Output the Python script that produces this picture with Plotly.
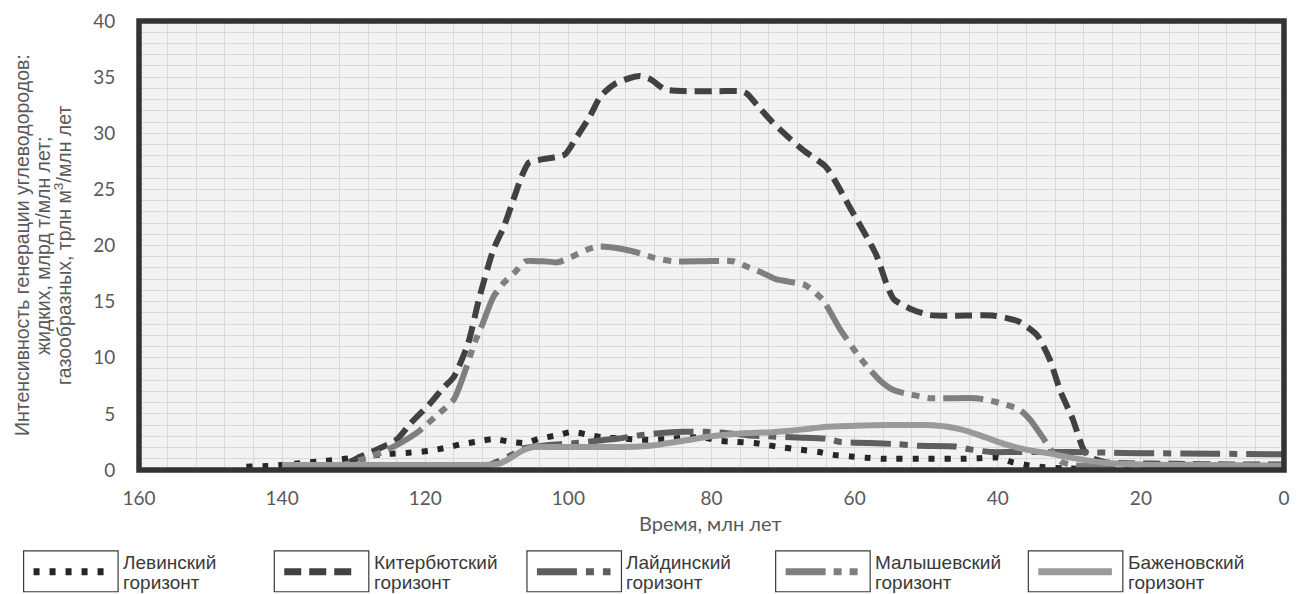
import plotly.graph_objects as go

# Время, млн лет (ось идёт от 160 к 0) и интенсивность генерации по горизонтам
lev_t = [145, 142, 140, 137.5, 135, 132.5, 130, 127.5, 125, 122, 119.5, 117, 115, 113, 110.5,
         108, 106, 104, 101.5, 99.5, 97, 95, 92.5, 90, 88, 85.5, 83, 81, 79, 76.5, 74, 72, 70,
         67.5, 65, 63, 60.5, 58.5, 56, 50, 45, 42.5, 40, 38, 36, 33.5, 31, 28]
lev_v = [0.3, 0.35, 0.45, 0.6, 0.75, 0.9, 1.1, 1.3, 1.45, 1.55, 1.7, 2.0, 2.3, 2.5, 2.75,
         2.5, 2.4, 2.8, 3.1, 3.4, 3.1, 2.9, 2.8, 2.7, 2.7, 2.8, 2.9, 2.9, 2.6, 2.5, 2.4, 2.2, 2.0,
         1.8, 1.6, 1.35, 1.2, 1.1, 1.0, 1.0, 1.0, 1.05, 1.1, 0.7, 0.45, 0.25, 0.15, 0.1]

kit_t = [134, 131, 129, 126.5, 124, 122, 119.5, 117.5, 116, 114, 112.5, 110.5, 109, 108, 106.5,
         105.5, 103.5, 100.5, 99, 97, 95.5, 93.5, 91.5, 90, 88.5, 86.5, 83.5, 79, 76, 75, 73.5, 71.5,
         69, 67, 64, 60.5, 57, 55.5, 54.5, 52, 49.5, 46, 40.5, 37, 34.5, 32.7, 31.3, 29.5, 28,
         27, 25, 22, 15, 8, 0]
kit_v = [0.1, 0.6, 1.2, 1.9, 2.7, 4.2, 5.8, 7.3, 8.3, 11.3, 15.2, 19.6, 21.7, 23.5, 26.2,
         27.4, 27.7, 28.1, 29.5, 31.5, 33.3, 34.4, 34.9, 35.1, 34.8, 33.9, 33.75, 33.75, 33.75, 33.5, 32.4, 31.0,
         29.5, 28.4, 27.0, 23.2, 19.2, 16.5, 15.2, 14.3, 13.8, 13.75, 13.75, 13.2, 12.0, 9.8, 7.1, 4.5, 1.8,
         1.1, 0.7, 0.6, 0.55, 0.5, 0.5]

lay_t = [115, 112, 110.5, 109, 107.5, 106.5, 103, 99, 96, 93, 90, 87, 84, 81, 78, 75, 72, 68,
         64, 62, 58, 54, 51, 46, 44, 41, 38, 35, 30, 25, 20, 10, 0]
lay_v = [0.05, 0.2, 0.6, 1.0, 1.5, 1.9, 2.2, 2.4, 2.6, 2.8, 3.1, 3.3, 3.4, 3.4, 3.3, 3.1, 3.0, 2.9,
         2.8, 2.5, 2.4, 2.3, 2.15, 2.1, 1.85, 1.6, 1.6, 1.6, 1.6, 1.55, 1.5, 1.45, 1.4]

mal_t = [136, 132, 129, 126, 123.5, 121, 118.5, 116, 113, 112, 110.5, 109, 107.5, 106, 104.5,
         103.5, 101.5, 99.5, 97.5, 96, 93.5, 90.5, 88, 85.5, 81, 77, 75, 73, 71, 68.5, 67, 64.5,
         62, 59, 56.5, 54.5, 52, 49.5, 43, 40.5, 37, 35.5, 33.5, 32, 31, 29, 25, 15, 0]
mal_v = [0.1, 0.4, 0.9, 1.6, 2.4, 3.4, 4.8, 6.3, 11.5, 13.0, 15.4, 16.7, 17.6, 18.6, 18.6,
         18.6, 18.5, 19.0, 19.6, 19.9, 19.8, 19.4, 18.9, 18.6, 18.6, 18.6, 18.1, 17.6, 17.0, 16.7, 16.5, 15.2,
         12.5, 9.8, 8.0, 7.1, 6.7, 6.4, 6.4, 6.1, 5.4, 4.5, 2.7, 1.3, 0.7, 0.4, 0.35, 0.3, 0.3]

baz_t = [140, 130, 120, 112, 109.5, 108, 106.5, 105, 102, 98, 94, 90, 88, 86, 84, 82, 80, 78,
         75, 72, 69, 66, 64, 60, 55, 50, 47, 45, 43, 41, 39, 37, 35, 33, 31, 28, 25, 20, 10, 0]
baz_v = [0.45, 0.45, 0.45, 0.45, 0.6, 1.1, 1.7, 2.05, 2.05, 2.05, 2.05, 2.1, 2.2, 2.4, 2.6, 2.8, 3.0, 3.15,
         3.3, 3.35, 3.5, 3.7, 3.85, 3.95, 4.0, 4.0, 3.85, 3.6, 3.2, 2.75, 2.3, 1.95, 1.7, 1.5, 1.25, 0.9,
         0.65, 0.5, 0.45, 0.4]

x_ticks = [160, 140, 120, 100, 80, 60, 40, 20, 0]
y_ticks = [0, 5, 10, 15, 20, 25, 30, 35, 40]

series = [
    ("Левинский", lev_t, lev_v, "#262626", "6px,10px"),
    ("Китербютский", kit_t, kit_v, "#414141", "17px,8px"),
    ("Лайдинский", lay_t, lay_v, "#5e5e5e", "40px,9px,8px,9px"),
    ("Малышевский", mal_t, mal_v, "#7f7f7f", "40px,8px,8px,8px,8px,8px"),
    ("Баженовский", baz_t, baz_v, "#9a9a9a", "solid"),
]

y_title_lines = [
    "Интенсивность генерации углеводородов:",
    "жидких, млрд т/млн лет;",
    "газообразных, трлн м<sup>3</sup>/млн лет",
]

# Размеры области построения в пикселях
W, H = 1299, 594
L, R, T, B = 139, 1290, 20, 470


def px(xp):
    return (xp - L) / (R - L)


def py(yp):
    return (B - yp) / (B - T)


fig = go.Figure()
for name, t, v, color, dash in series:
    fig.add_trace(go.Scatter(
        x=t, y=v, mode="lines", name=name,
        line=dict(color=color, width=6, dash=dash, shape="spline", smoothing=0.6),
        showlegend=False,
    ))

shapes = [
    dict(type="rect", xref="paper", yref="paper", x0=0, x1=1, y0=0, y1=1,
         line=dict(color="#333333", width=5.5), layer="above"),
]
annotations = []

label_font = dict(family="Liberation Sans, Arial", size=19, color="#3a3a3a")

# Подписи-легенда в рамках под графиком
box_left = [23, 275, 529, 779, 1033]
for (name, t, v, color, dash), bl in zip(series, box_left):
    shapes.append(dict(type="rect", xref="paper", yref="paper",
                       x0=px(bl), x1=px(bl + 95), y0=py(551), y1=py(592),
                       line=dict(color="#3a3a3a", width=1.2), fillcolor="white"))
    shapes.append(dict(type="line", xref="paper", yref="paper",
                       x0=px(bl + 10), x1=px(bl + 84), y0=py(572), y1=py(572),
                       line=dict(color=color, width=7, dash=dash)))
    for txt, yc in ((name, 563), ("горизонт", 583)):
        annotations.append(dict(xref="paper", yref="paper", x=px(bl + 98), y=py(yc),
                                xanchor="left", yanchor="middle", align="left",
                                showarrow=False, text=txt, font=label_font))

annotations.append(dict(xref="paper", yref="paper", x=px(713), y=py(523), xanchor="center",
                        yanchor="middle", showarrow=False, text="Время, млн лет",
                        font=dict(family="Lato", size=20, color="#595959")))

for txt, xc in zip(y_title_lines, (21, 42, 62)):
    annotations.append(dict(xref="paper", yref="paper", x=px(xc), y=py(245), xanchor="center",
                            yanchor="middle", showarrow=False, textangle=-90, text=txt,
                            font=dict(family="Liberation Sans, Arial", size=19.5, color="#595959")))

fig.update_layout(
    width=W, height=H,
    margin=dict(l=L, r=W - R, t=T, b=H - B),
    paper_bgcolor="white", plot_bgcolor="#f2f2f2",
    shapes=shapes, annotations=annotations,
    xaxis=dict(range=[160, 0], tickvals=x_ticks, showgrid=True, gridcolor="#d9d9d9", gridwidth=1,
               minor=dict(dtick=4, showgrid=True, gridcolor="#d9d9d9", gridwidth=1),
               zeroline=False, showline=False, ticks="outside", ticklen=11,
               tickcolor="rgba(0,0,0,0)",
               tickfont=dict(family="Lato", size=19, color="#595959")),
    yaxis=dict(range=[0, 40], tickvals=y_ticks, showgrid=True, gridcolor="#d9d9d9", gridwidth=1,
               minor=dict(dtick=1, showgrid=True, gridcolor="#d9d9d9", gridwidth=1),
               zeroline=False, showline=False, ticks="outside", ticklen=19,
               tickcolor="rgba(0,0,0,0)",
               tickfont=dict(family="Lato", size=19, color="#595959")),
)

fig.write_html("out.html")
